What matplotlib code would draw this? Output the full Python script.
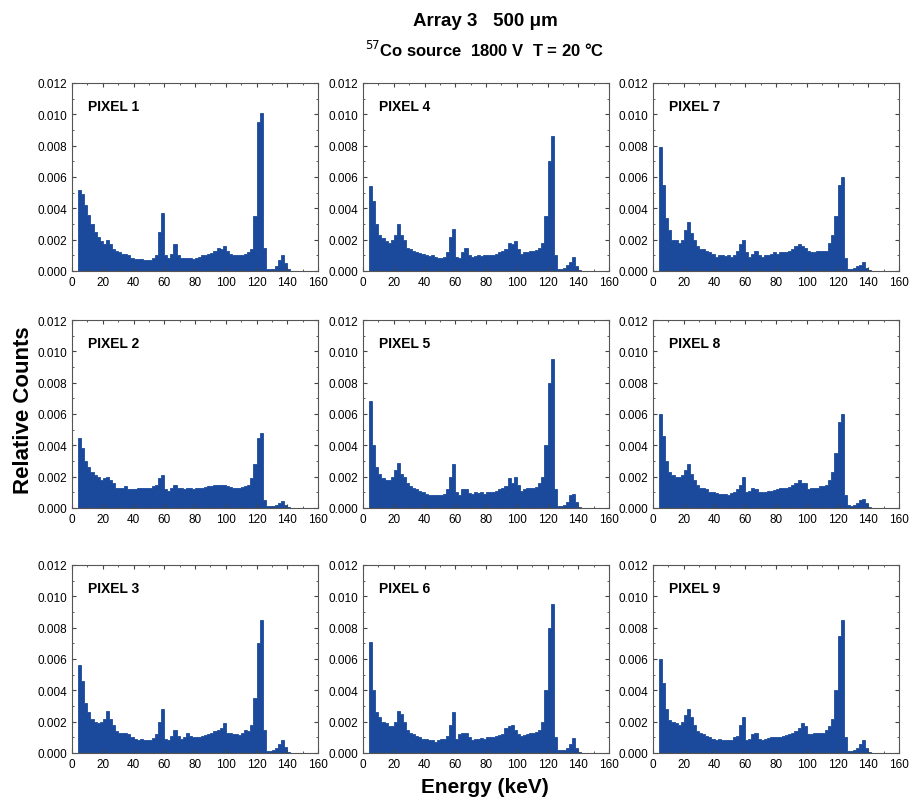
import numpy as np
import matplotlib
matplotlib.use('Agg')
import matplotlib.pyplot as plt
from matplotlib.ticker import MultipleLocator

plt.rcParams['font.family'] = ['Liberation Sans', 'DejaVu Sans']

# bin edges (keV), 2 keV bins from 4 to 142
edges = np.arange(4, 144, 2)

# relative counts per bin, in units of 1e-3
pixel1 = [5.2, 4.9, 4.2, 3.6, 3.0, 2.5, 2.2, 1.9, 1.7, 2.0, 1.7, 1.4, 1.3, 1.2, 1.1, 1.1, 1.0, 0.8,
          0.75, 0.75, 0.75, 0.7, 0.7, 0.7, 0.8, 1.0, 2.5, 3.7, 1.0, 0.8, 1.1, 1.7, 1.0, 0.8, 0.8, 0.85,
          0.8, 0.75, 0.8, 0.9, 1.0, 1.0, 1.1, 1.15, 1.3, 1.5, 1.4, 1.6, 1.3, 1.1, 1.0, 1.0, 1.0, 1.0,
          1.1, 1.2, 1.4, 3.5, 9.5, 10.1, 1.5, 0.15, 0.15, 0.15, 0.3, 0.7, 1.0, 0.5, 0.1]
pixel2 = [4.5, 3.8, 3.0, 2.6, 2.3, 2.1, 2.0, 1.8, 1.9, 2.0, 1.8, 1.6, 1.3, 1.3, 1.3, 1.4, 1.2, 1.2,
          1.2, 1.3, 1.3, 1.3, 1.3, 1.3, 1.4, 1.5, 1.9, 2.1, 1.2, 1.1, 1.3, 1.5, 1.3, 1.3, 1.2, 1.25,
          1.3, 1.2, 1.25, 1.3, 1.3, 1.35, 1.4, 1.4, 1.5, 1.5, 1.45, 1.5, 1.4, 1.35, 1.3, 1.3, 1.3, 1.35,
          1.4, 1.5, 1.9, 2.8, 4.5, 4.8, 0.5, 0.15, 0.15, 0.15, 0.2, 0.35, 0.45, 0.2, 0.05]
pixel3 = [5.6, 4.6, 3.2, 2.6, 2.2, 2.0, 1.9, 2.0, 2.2, 2.7, 2.2, 1.8, 1.4, 1.3, 1.25, 1.3, 1.2, 1.0,
          0.9, 0.85, 0.9, 0.85, 0.85, 0.8, 0.95, 1.2, 2.0, 2.8, 0.9, 0.85, 1.1, 1.5, 1.1, 0.9, 1.0, 1.25,
          1.1, 1.0, 1.0, 1.0, 1.1, 1.15, 1.2, 1.3, 1.4, 1.5, 1.6, 1.9, 1.3, 1.3, 1.2, 1.2, 1.15, 1.3,
          1.5, 1.4, 1.8, 3.5, 7.0, 8.5, 1.5, 0.15, 0.15, 0.2, 0.3, 0.6, 0.8, 0.4, 0.05]
pixel4 = [5.4, 4.5, 3.0, 2.3, 2.1, 1.9, 1.8, 2.0, 2.3, 3.0, 2.3, 2.0, 1.5, 1.4, 1.3, 1.2, 1.15, 1.1,
          1.0, 0.95, 1.0, 0.9, 0.85, 0.8, 0.9, 1.2, 2.2, 2.7, 0.9, 0.85, 1.2, 1.5, 1.0, 0.9, 0.95, 1.0,
          0.95, 1.0, 1.0, 1.0, 1.05, 1.1, 1.2, 1.3, 1.4, 1.8, 1.7, 1.9, 1.4, 1.1, 1.2, 1.2, 1.25, 1.3,
          1.35, 1.5, 1.8, 3.5, 7.0, 8.6, 1.0, 0.15, 0.15, 0.2, 0.4, 0.6, 0.9, 0.3, 0.05]
pixel5 = [6.8, 4.0, 2.6, 2.2, 1.9, 1.8, 1.8, 2.0, 2.4, 2.9, 2.2, 2.0, 1.6, 1.4, 1.3, 1.2, 1.1, 1.0,
          0.9, 0.85, 0.85, 0.8, 0.85, 0.85, 0.9, 1.2, 2.0, 2.8, 1.0, 0.8, 1.2, 1.2, 0.95, 0.9, 1.0, 0.95,
          1.0, 0.9, 1.0, 1.0, 1.05, 1.1, 1.2, 1.3, 1.4, 1.9, 1.6, 2.0, 1.5, 1.1, 1.2, 1.25, 1.3, 1.3,
          1.35, 1.6, 2.0, 4.0, 8.0, 9.5, 1.2, 0.15, 0.15, 0.2, 0.4, 0.8, 0.9, 0.4, 0.05]
pixel6 = [7.1, 4.0, 2.6, 2.3, 2.0, 1.9, 1.7, 1.7, 2.0, 2.7, 2.5, 2.0, 1.5, 1.3, 1.2, 1.1, 1.0, 0.9,
          0.9, 0.85, 0.85, 0.7, 0.85, 0.9, 0.9, 1.1, 1.8, 2.6, 0.9, 1.2, 1.3, 1.3, 1.0, 0.8, 0.9, 0.9,
          0.95, 0.9, 1.0, 1.0, 1.05, 1.1, 1.15, 1.2, 1.6, 1.7, 1.8, 1.5, 1.2, 1.1, 1.15, 1.2, 1.25, 1.3,
          1.35, 1.5, 2.0, 4.0, 8.0, 9.5, 1.0, 0.2, 0.2, 0.2, 0.3, 0.6, 0.95, 0.3, 0.05]
pixel7 = [7.9, 5.5, 3.4, 2.6, 2.0, 2.0, 1.8, 2.0, 2.6, 3.1, 2.4, 2.0, 1.6, 1.4, 1.4, 1.3, 1.2, 1.1,
          0.9, 1.0, 1.0, 0.95, 1.0, 0.9, 1.0, 1.3, 1.7, 2.0, 1.2, 0.9, 1.1, 1.3, 1.0, 0.9, 1.0, 1.0,
          1.1, 1.2, 1.1, 1.2, 1.2, 1.2, 1.3, 1.4, 1.6, 1.7, 1.6, 1.5, 1.3, 1.2, 1.2, 1.25, 1.3, 1.3,
          1.3, 1.8, 2.3, 3.5, 5.5, 6.0, 0.8, 0.15, 0.15, 0.2, 0.3, 0.4, 0.6, 0.2, 0.05]
pixel8 = [6.0, 4.6, 3.0, 2.3, 2.1, 2.0, 2.0, 2.1, 2.4, 2.8, 2.2, 1.8, 1.5, 1.3, 1.3, 1.2, 1.0, 1.0,
          0.95, 0.9, 0.9, 0.9, 0.85, 0.95, 1.0, 1.2, 1.5, 2.0, 1.0, 1.1, 1.3, 1.2, 1.0, 1.0, 1.0, 1.1,
          1.1, 1.15, 1.2, 1.3, 1.3, 1.3, 1.35, 1.45, 1.6, 1.8, 1.6, 1.6, 1.2, 1.3, 1.3, 1.3, 1.4, 1.4,
          1.5, 1.8, 2.3, 3.5, 5.5, 6.0, 0.8, 0.2, 0.15, 0.2, 0.3, 0.5, 0.6, 0.3, 0.05]
pixel9 = [6.0, 4.5, 2.8, 2.1, 2.0, 1.9, 1.8, 2.0, 2.4, 2.8, 2.3, 1.8, 1.4, 1.3, 1.2, 1.1, 1.0, 0.9,
          0.85, 0.9, 0.85, 0.8, 0.85, 0.85, 1.0, 1.1, 1.8, 2.3, 0.8, 0.9, 1.2, 1.3, 0.9, 0.85, 0.9, 0.95,
          1.0, 1.0, 1.0, 1.05, 1.1, 1.15, 1.2, 1.3, 1.4, 1.6, 1.9, 1.7, 1.2, 1.2, 1.25, 1.3, 1.3, 1.3,
          1.5, 1.7, 2.2, 4.0, 7.5, 8.5, 1.0, 0.15, 0.15, 0.2, 0.3, 0.6, 0.85, 0.3, 0.05]

# grid order: columns are pixels 1-3, 4-6, 7-9
grid = [[pixel1, pixel4, pixel7],
        [pixel2, pixel5, pixel8],
        [pixel3, pixel6, pixel9]]
names = [['PIXEL 1', 'PIXEL 4', 'PIXEL 7'],
         ['PIXEL 2', 'PIXEL 5', 'PIXEL 8'],
         ['PIXEL 3', 'PIXEL 6', 'PIXEL 9']]

W, H = 910, 803
fig = plt.figure(figsize=(W / 100, H / 100), dpi=100)

col_left = [72, 363, 653]
row_bottom = [272, 509, 754]
ax_w, ax_h = 246, 188
blue = '#1b4a9c'

for r in range(3):
    for c in range(3):
        ax = fig.add_axes([col_left[c] / W, 1 - row_bottom[r] / H, ax_w / W, ax_h / H])
        vals = np.array(grid[r][c]) * 1e-3
        ax.stairs(vals, edges, fill=True, facecolor=blue, edgecolor=blue, lw=0.6)
        ax.set_xlim(0, 160)
        ax.set_ylim(0, 0.012)
        ax.xaxis.set_major_locator(MultipleLocator(20))
        ax.xaxis.set_minor_locator(MultipleLocator(10))
        ax.yaxis.set_major_locator(MultipleLocator(0.002))
        ax.yaxis.set_minor_locator(MultipleLocator(0.001))
        ax.yaxis.set_major_formatter(plt.FormatStrFormatter('%.3f'))
        ax.tick_params(which='both', direction='in', top=True, right=True,
                       labelsize=8.5, colors='#444444', labelcolor='black')
        ax.tick_params(which='major', length=3)
        ax.tick_params(which='minor', length=1.5)
        for s in ax.spines.values():
            s.set_color('#555555')
            s.set_linewidth(0.8)
        ax.text(0.066, 0.878, names[r][c], transform=ax.transAxes,
                fontsize=10, fontweight='bold', va='center')

fig.text(485 / W, 1 - 22 / H, 'Array 3   500 \u03bcm', ha='center', va='center',
         fontsize=13.5, fontweight='bold')
fig.text(485 / W, 1 - 50 / H, r'$^{57}$Co source  1800 V  T = 20 °C', ha='center', va='center',
         fontsize=12, fontweight='bold')
fig.text(24 / W, 1 - 410 / H, 'Relative Counts', rotation=90, ha='center', va='center',
         fontsize=16, fontweight='bold')
fig.text(485 / W, 1 - 788 / H, 'Energy (keV)', ha='center', va='center',
         fontsize=15, fontweight='bold')

fig.savefig('out.png', dpi=100)
